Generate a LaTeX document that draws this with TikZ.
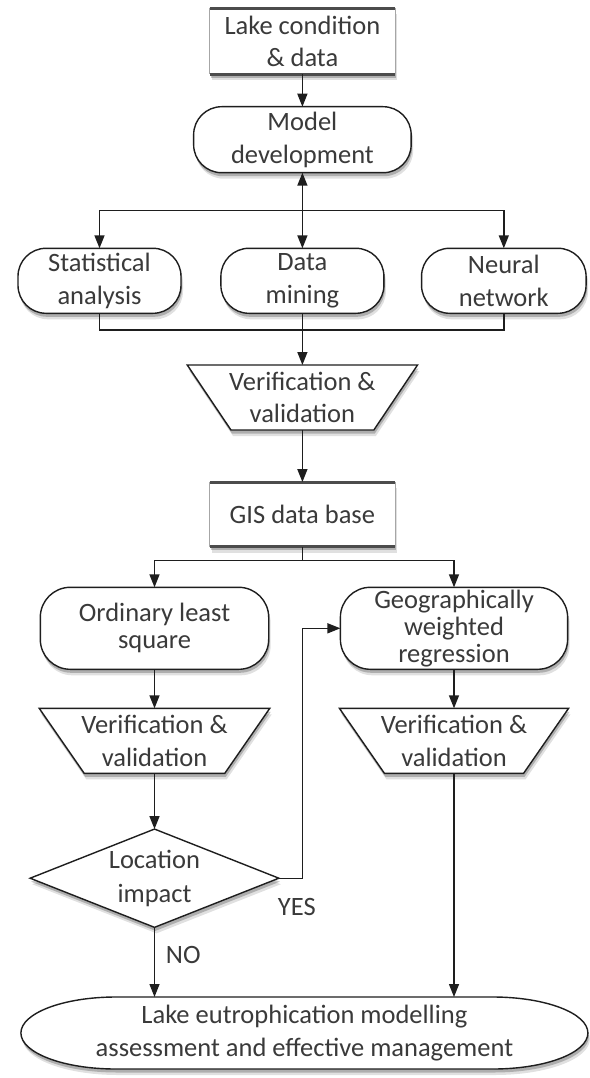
\documentclass[tikz,border=0pt]{standalone}
\usepackage{fontspec}
\setmainfont{Carlito}
\usetikzlibrary{arrows.meta,shadows,calc,backgrounds}
\definecolor{txt}{HTML}{3A3A3A}
\definecolor{ln}{HTML}{1E1E1E}
\begin{document}
\begin{tikzpicture}[x=1pt,y=1pt,
  every node/.style={inner sep=0pt, outer sep=0pt, align=center, text=txt,
    font=\fontsize{26.5}{32.5}\selectfont},
  shad/.style={drop shadow={shadow xshift=2pt,shadow yshift=-6pt,opacity=0.12,fill=black},
               drop shadow={shadow xshift=1pt,shadow yshift=-3.5pt,opacity=0.22,fill=black}},
  pill/.style={draw=ln, line width=1.4pt, fill=white, rounded corners=28pt, shad},
  shapeline/.style={draw=ln, line width=1.4pt, fill=white, shad},
  conn/.style={draw=ln, line width=1.4pt},
  arr/.style={conn, -{Triangle[length=13pt,width=10pt]}},
  darr/.style={conn, {Triangle[length=13pt,width=10pt]}-{Triangle[length=13pt,width=10pt]}},
  lbl/.style={font=\fontsize{26.5}{30}\selectfont}
]
\useasboundingbox (0,0) rectangle (589,-1078);

% nodes
\node (lake) at (302.4,-41.2) [minimum width=185.6, minimum height=65.7] {Lake condition\\\& data};
\node (model) at (302.4,-139.7) [pill, minimum width=217.5, minimum height=66] {Model\\development};
\node (stat) at (99.5,-280.8) [pill, minimum width=163, minimum height=65] {Statistical\\analysis};
\node (dm) at (302.4,-280.8) [pill, minimum width=163, minimum height=65] {Data\\mining};
\node (nn) at (503.8,-280.8) [pill, minimum width=164.5, minimum height=65] {Neural\\network};
\node (v1) at (302.4,-397.5) [minimum width=230.3, minimum height=65] {Verification \&\\validation};
\node (gis) at (302.4,-514.4) [minimum width=185.2, minimum height=64.7] {GIS data base};
\node (ols) at (154.5,-628.3) [pill, rounded corners=30pt, minimum width=228.4, minimum height=82,
  font=\fontsize{26.5}{27}\selectfont] {Ordinary least\\square};
\node (gwr) at (454,-628.3) [pill, rounded corners=30pt, minimum width=227.2, minimum height=82,
  font=\fontsize{26.5}{27}\selectfont] {Geographically\\weighted\\regression};
\node (v2) at (154.5,-740.8) [minimum width=230.6, minimum height=65] {Verification \&\\validation};
\node (v3) at (454,-740.8) [minimum width=229.2, minimum height=65] {Verification \&\\validation};
\node (dia) at (154.5,-878.2) [minimum width=248.7, minimum height=98.3,
  font=\fontsize{26.5}{34}\selectfont] {Location\\impact};
\node (final) at (304.4,-1033) [minimum width=567, minimum height=72] {Lake eutrophication modelling\\assessment and effective management};
\node[lbl] (yes) at (296.8,-906.7) {YES};
\node[lbl] (no) at (183.3,-955) {NO};

% custom shapes behind text
\begin{scope}[on background layer]
  \fill[white] (0,0) rectangle (589,-1078);
  \foreach \b in {lake,gis}{
    \fill[white, shad] (\b.north west) rectangle (\b.south east);
    \draw[gray!70, line width=0.8pt] (\b.north west) -- (\b.south west);
    \draw[gray!70, line width=0.8pt] (\b.north east) -- (\b.south east);
    \draw[black!70, line width=3pt] (\b.north west) -- (\b.north east);
    \draw[black!70, line width=3pt] (\b.south west) -- (\b.south east);
  }
  \path[shapeline] (v1.north west) -- (v1.north east) -- ([xshift=-43.7pt]v1.south east) -- ([xshift=43.7pt]v1.south west) -- cycle;
  \path[shapeline] (v2.north west) -- (v2.north east) -- ([xshift=-45pt]v2.south east) -- ([xshift=45pt]v2.south west) -- cycle;
  \path[shapeline] (v3.north west) -- (v3.north east) -- ([xshift=-45pt]v3.south east) -- ([xshift=45pt]v3.south west) -- cycle;
  \path[shapeline] (dia.west) -- (dia.north) -- (dia.east) -- (dia.south) -- cycle;
  \path[shapeline] ([xshift=95pt]final.north west) -- ([xshift=-95pt]final.north east)
     arc[start angle=90,end angle=-90,x radius=95,y radius=36]
     -- ([xshift=95pt]final.south west)
     arc[start angle=270,end angle=90,x radius=95,y radius=36] -- cycle;
\end{scope}

% junctions
\coordinate (j1) at (302.4,-210.7);
\coordinate (j2) at (302.4,-330);
\coordinate (j3) at (302.4,-560.7);

% connectors
\draw[arr] (lake.south) -- (model.north);
\draw[darr] (model.south) -- (dm.north);
\draw[arr] (j1) -| (stat.north);
\draw[arr] (j1) -| (nn.north);
\draw[conn] (stat.south) |- (j2);
\draw[conn] (nn.south) |- (j2);
\draw[arr] (dm.south) -- (v1.north);
\draw[arr] (v1.south) -- (gis.north);
\draw[conn] (gis.south) -- (j3);
\draw[arr] (j3) -| (ols.north);
\draw[arr] (j3) -| (gwr.north);
\draw[arr] (ols.south) -- (v2.north);
\draw[arr] (gwr.south) -- (v3.north);
\draw[arr] (v2.south) -- (dia.north);
\draw[arr] (dia.east) -- (dia.east -| j3) |- (gwr.west);
\draw[arr] (dia.south) -- (dia.south |- final.north);
\draw[arr] (v3.south) -- (v3.south |- final.north);
\end{tikzpicture}
\end{document}
